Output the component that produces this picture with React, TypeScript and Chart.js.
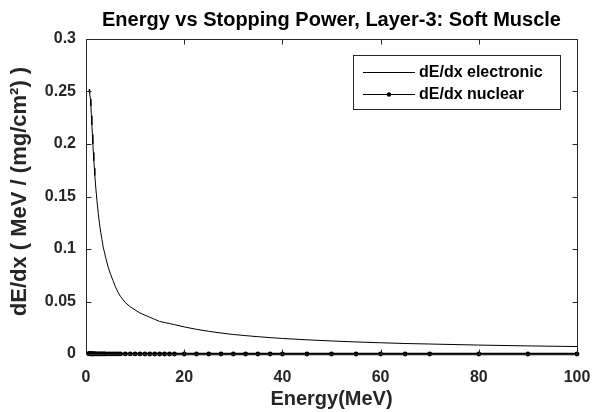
import React, { useEffect, useRef } from "react";
import { Chart, registerables } from "chart.js";

Chart.register(...registerables);

// Energy grid (MeV)
const energies = [
  0.6, 0.65, 0.7, 0.8, 0.9, 1.0, 1.1, 1.2, 1.3, 1.4, 1.5, 1.6, 1.7, 1.8, 2.0,
  2.25, 2.5, 2.75, 3.0, 3.25, 3.5, 3.75, 4.0, 4.5, 5.0, 5.5, 6.0, 6.5, 7.0,
  8, 9, 10, 11, 12, 13, 14, 15, 16, 17, 18, 20, 22.5, 25, 27.5, 30, 32.5, 35,
  37.5, 40, 45, 50, 55, 60, 65, 70, 80, 90, 100,
];

// Electronic stopping power, MeV/(mg/cm2)
const electronic = [
  0.251, 0.252, 0.251, 0.248, 0.243, 0.236, 0.227, 0.218, 0.209, 0.2, 0.192,
  0.184, 0.177, 0.17, 0.158, 0.145, 0.134, 0.124, 0.116, 0.109, 0.102, 0.097,
  0.092, 0.083, 0.076, 0.07, 0.064, 0.059, 0.055, 0.049, 0.045, 0.042, 0.039,
  0.037, 0.035, 0.033, 0.031, 0.03, 0.029, 0.028, 0.0258, 0.0235, 0.0216,
  0.02, 0.0186, 0.0175, 0.0165, 0.0156, 0.0148, 0.0135, 0.0124, 0.0115,
  0.0107, 0.01, 0.0095, 0.0085, 0.0077, 0.0071,
];

// Nuclear stopping power, MeV/(mg/cm2)
const nuclear = [
  0.00032, 0.0003, 0.00028, 0.00025, 0.00023, 0.00021, 0.0002, 0.00018,
  0.00017, 0.00016, 0.00015, 0.00014, 0.00013, 0.00013, 0.00012, 0.00011,
  0.0001, 0.00009, 0.00008, 0.00008, 0.00007, 0.00007, 0.00006, 0.00006,
  0.00005, 0.00005, 0.00004, 0.00004, 0.00004, 0.00003, 0.00003, 0.00003,
  0.00003, 0.00002, 0.00002, 0.00002, 0.00002, 0.00002, 0.00002, 0.00002,
  0.00002, 0.00001, 0.00001, 0.00001, 0.00001, 0.00001, 0.00001, 0.00001,
  0.00001, 0.00001, 0.00001, 0.00001, 0.00001, 0.00001, 0.00001, 0.00001,
  0.00001, 0.00001,
];

const xTicks = [0, 20, 40, 60, 80, 100];
const yTicks = [0, 0.05, 0.1, 0.15, 0.2, 0.25, 0.3];
const titleText = "Energy vs Stopping Power, Layer-3: Soft Muscle";
const xTitle = "Energy(MeV)";
const yTitle = "dE/dx ( MeV / (mg/cm\u00B2) )";
const legendLabels = ["dE/dx electronic", "dE/dx nuclear"];

const FONT = "'Liberation Sans', Arial, Helvetica, sans-serif";
const AXIS_COLOR = "#262626";

const decorPlugin = {
  id: "decor",
  afterDraw(chart: any) {
    const ctx = chart.ctx as CanvasRenderingContext2D;
    const { left, right, top, bottom } = chart.chartArea;
    const xs = chart.scales.x;
    const ys = chart.scales.y;
    ctx.save();
    ctx.strokeStyle = AXIS_COLOR;
    ctx.lineWidth = 1;
    const L = Math.round(left) + 0.5;
    const R = Math.round(right) + 0.5;
    const T = Math.round(top) + 0.5;
    const B = Math.round(bottom) + 0.5;
    ctx.beginPath();
    ctx.rect(L, T, R - L, B - T);
    ctx.stroke();
    const tl = 5;
    ctx.beginPath();
    xTicks.forEach((v) => {
      const px = Math.round(xs.getPixelForValue(v)) + 0.5;
      ctx.moveTo(px, B);
      ctx.lineTo(px, B - tl);
      ctx.moveTo(px, T);
      ctx.lineTo(px, T + tl);
    });
    yTicks.forEach((v) => {
      const py = Math.round(ys.getPixelForValue(v)) + 0.5;
      ctx.moveTo(L, py);
      ctx.lineTo(L + tl, py);
      ctx.moveTo(R, py);
      ctx.lineTo(R - tl, py);
    });
    ctx.stroke();

    // title
    ctx.fillStyle = "#000";
    ctx.font = `bold 20px ${FONT}`;
    ctx.textAlign = "center";
    ctx.textBaseline = "middle";
    ctx.fillText(titleText, (left + right) / 2, 20);

    // x title
    ctx.fillStyle = AXIS_COLOR;
    ctx.font = `bold 20px ${FONT}`;
    ctx.fillText(xTitle, (left + right) / 2, 399);

    // y title
    ctx.save();
    ctx.translate(20, (top + bottom) / 2 - 5);
    ctx.rotate(-Math.PI / 2);
    ctx.font = `bold 22px ${FONT}`;
    ctx.fillText(yTitle, 0, 0);
    ctx.restore();

    // legend
    const bx = 353.5, by = 55.5, bw = 207, bh = 54;
    ctx.fillStyle = "#fff";
    ctx.fillRect(bx, by, bw, bh);
    ctx.strokeStyle = AXIS_COLOR;
    ctx.strokeRect(bx, by, bw, bh);
    const rows = [72, 94];
    ctx.strokeStyle = "#000";
    ctx.lineWidth = 1;
    rows.forEach((ry, i) => {
      ctx.beginPath();
      ctx.moveTo(363, ry + 0.5);
      ctx.lineTo(415, ry + 0.5);
      ctx.stroke();
      if (i === 1) {
        ctx.fillStyle = "#000";
        ctx.beginPath();
        ctx.arc(389, ry + 0.5, 2.2, 0, Math.PI * 2);
        ctx.fill();
      }
      ctx.fillStyle = "#000";
      ctx.font = `bold 16px ${FONT}`;
      ctx.textAlign = "left";
      ctx.textBaseline = "middle";
      ctx.fillText(legendLabels[i], 419, ry + 1);
    });
    ctx.restore();
  },
};

export default function App() {
  const ref = useRef<HTMLCanvasElement | null>(null);
  useEffect(() => {
    if (!ref.current) return;
    const chart = new Chart(ref.current, {
      type: "line",
      data: {
        datasets: [
          {
            label: legendLabels[0],
            data: energies.map((e, i) => ({ x: e, y: electronic[i] })),
            borderColor: "#000",
            borderWidth: 1,
            pointRadius: 0,
            tension: 0,
          },
          {
            label: legendLabels[1],
            data: energies.map((e, i) => ({ x: e, y: nuclear[i] })),
            borderColor: "#000",
            backgroundColor: "#000",
            borderWidth: 2.5,
            pointRadius: 2.4,
            pointBackgroundColor: "#000",
            pointBorderWidth: 0,
            tension: 0,
            clip: false,
          },
        ],
      },
      options: {
        responsive: false,
        animation: false,
        devicePixelRatio: 1,
        layout: { padding: { top: 39, right: 15, left: 0, bottom: 0 } },
        plugins: {
          legend: { display: false },
          title: { display: false },
          tooltip: { enabled: false },
        },
        scales: {
          x: {
            type: "linear",
            min: 0,
            max: 100,
            afterBuildTicks: (s: any) => {
              s.ticks = xTicks.map((v) => ({ value: v }));
            },
            afterFit: (s: any) => {
              s.height = 58;
              s.paddingLeft = 0;
              s.paddingRight = 0;
            },
            ticks: {
              color: AXIS_COLOR,
              font: { family: FONT, size: 16, weight: "bold" },
              padding: 14,
              maxRotation: 0,
              autoSkip: false,
            },
            grid: { display: false, drawTicks: false },
            border: { display: false },
          },
          y: {
            type: "linear",
            min: 0,
            max: 0.3,
            afterBuildTicks: (s: any) => {
              s.ticks = yTicks.map((v) => ({ value: v }));
            },
            afterFit: (s: any) => {
              s.width = 86;
              s.paddingTop = 0;
              s.paddingBottom = 0;
            },
            ticks: {
              color: AXIS_COLOR,
              font: { family: FONT, size: 16, weight: "bold" },
              padding: 10,
              autoSkip: false,
              callback: (v: any) => String(Number(v)),
            },
            grid: { display: false, drawTicks: false },
            border: { display: false },
          },
        },
      },
      plugins: [decorPlugin],
    });
    return () => chart.destroy();
  }, []);
  return (
    <div style={{ position: "absolute", left: 0, top: 0, width: 592, height: 412, background: "#fff" }}>
      <canvas ref={ref} width={592} height={412} style={{ display: "block" }} />
    </div>
  );
}
